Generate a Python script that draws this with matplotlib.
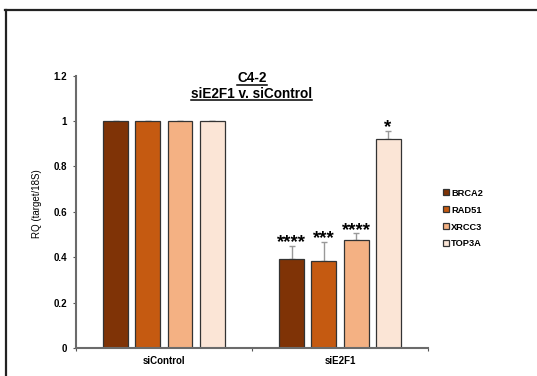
import numpy as np
import matplotlib
matplotlib.use("Agg")
import matplotlib.pyplot as plt
from matplotlib.lines import Line2D

plt.rcParams["font.family"] = ["Liberation Sans", "DejaVu Sans"]

conditions = ["siControl", "siE2F1"]
genes = ["BRCA2", "RAD51", "XRCC3", "TOP3A"]
colors = ["#7F3306", "#C55A11", "#F4B183", "#FBE5D6"]
values = {
    "BRCA2": [1.0, 0.393],
    "RAD51": [1.0, 0.382],
    "XRCC3": [1.0, 0.475],
    "TOP3A": [1.0, 0.922],
}
errors = {
    "BRCA2": [0.0, 0.057],
    "RAD51": [0.0, 0.085],
    "XRCC3": [0.0, 0.030],
    "TOP3A": [0.0, 0.036],
}
stars = {
    "BRCA2": ["", "****"],
    "RAD51": ["", "***"],
    "XRCC3": ["", "****"],
    "TOP3A": ["", "*"],
}

fig = plt.figure(figsize=(5.37, 3.76), dpi=100)
ax = fig.add_axes([0.1415, 0.0745, 0.6555, 0.7242])

centers = np.array([0.5, 1.5])
width = 0.142
step = 0.182
for i, g in enumerate(genes):
    x = centers + (i - 1.5) * step
    ax.bar(x, values[g], width, color=colors[i], edgecolor="#333333",
           linewidth=0.9, label=g, zorder=2)
    ax.errorbar(x, values[g], yerr=[np.zeros(2), errors[g]], fmt="none",
                ecolor="#999999", elinewidth=1.0, capsize=2.5, capthick=1.0,
                zorder=1)
    for xi, v, e, s in zip(x, values[g], errors[g], stars[g]):
        if s:
            ax.annotate(s, (xi, v + e), xytext=(0, -4), textcoords="offset points",
                        ha="center", va="bottom", fontsize=13.5, fontweight="bold")

ax.set_xlim(0, 2)
ax.set_ylim(0, 1.2)
ax.set_yticks(np.arange(0, 1.21, 0.2))
ax.set_yticklabels(["0", "0.2", "0.4", "0.6", "0.8", "1", "1.2"],
                   fontsize=7, fontweight="bold")
ax.set_xticks([0, 1, 2])
ax.set_xticklabels([])
ax.set_xticks(centers, minor=True)
ax.set_xticklabels(conditions, minor=True, fontsize=7, fontweight="bold")
ax.tick_params(axis="x", which="minor", length=0, pad=6)
ax.tick_params(axis="both", which="major", length=2.5, width=0.8,
               color="#555555", direction="out", pad=4)
for side in ["top", "right"]:
    ax.spines[side].set_visible(False)
for side in ["left", "bottom"]:
    ax.spines[side].set_color("#6b6b6b")
    ax.spines[side].set_linewidth(1.5)

ax.set_ylabel("RQ (target/18S)", fontsize=7)
ax.yaxis.set_label_coords(-0.097, 0.53)

fig.legend(loc="upper left", bbox_to_anchor=(0.818, 0.508), frameon=False,
           prop={"weight": "bold", "size": 6.7},
           handlelength=0.6, handleheight=0.6, handletextpad=0.25,
           labelspacing=0.85, borderaxespad=0)

t1 = fig.text(0.469, 0.781, "C4-2", ha="center", va="baseline",
              fontsize=9.8, fontweight="bold")
t2 = fig.text(0.469, 0.740, "siE2F1 v. siControl", ha="center", va="baseline",
              fontsize=9.8, fontweight="bold")

# underline the title lines
fig.canvas.draw()
r = fig.canvas.get_renderer()
for t in (t1, t2):
    bb = t.get_window_extent(r).transformed(fig.transFigure.inverted())
    y = t.get_position()[1] - 0.007
    fig.add_artist(Line2D([bb.x0, bb.x1], [y, y], color="black", lw=1.1,
                          transform=fig.transFigure))

# outer frame lines (top and left)
fig.add_artist(Line2D([0.009, 1.0], [0.973, 0.973], color="#222222", lw=1.6,
                      transform=fig.transFigure))
fig.add_artist(Line2D([0.011, 0.011], [0.0, 0.973], color="#222222", lw=1.6,
                      transform=fig.transFigure))

fig.savefig("out.png", dpi=100)
